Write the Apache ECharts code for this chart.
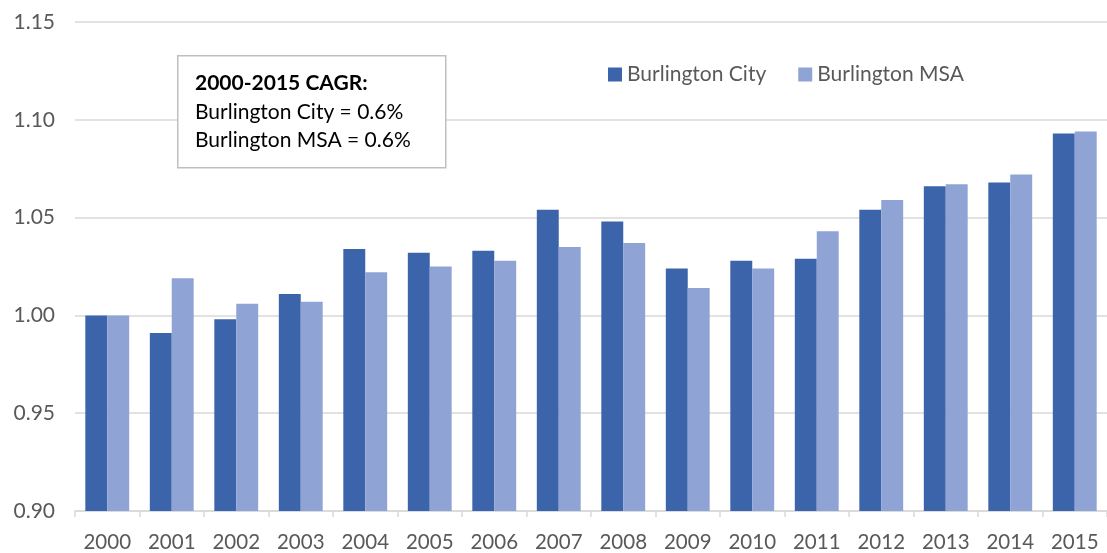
<!DOCTYPE html>
<html>
<head>
<meta charset="utf-8">
<script src="https://cdn.jsdelivr.net/npm/echarts@6/dist/echarts.min.js"></script>
<style>
  html, body { margin: 0; padding: 0; background: #fff; }
  #chart { width: 1107px; height: 553px; }
</style>
</head>
<body>
<div id="chart"></div>
<script>
var years = ['2000', '2001', '2002', '2003', '2004', '2005', '2006', '2007',
  '2008', '2009', '2010', '2011', '2012', '2013', '2014', '2015'];
var cityValues = [1.000, 0.991, 0.998, 1.011, 1.034, 1.032, 1.033, 1.054,
  1.048, 1.024, 1.028, 1.029, 1.054, 1.066, 1.068, 1.093];
var msaValues = [1.000, 1.019, 1.006, 1.007, 1.022, 1.025, 1.028, 1.035,
  1.037, 1.014, 1.024, 1.043, 1.059, 1.067, 1.072, 1.094];
var noteLines = ['2000-2015 CAGR:', 'Burlington City = 0.6%', 'Burlington MSA = 0.6%'];

(function() {
  var font = 'Lato, "Open Sans", sans-serif';
  var gray = '#595959';
  var rule = '#D9D9D9';
  var cityColor = '#3C64AB';
  var msaColor = '#8FA3D4';

  var chart = echarts.init(document.getElementById('chart'), null, { renderer: 'canvas' });

  chart.setOption({
    animation: false,
    textStyle: { fontFamily: font },
    legend: {
      data: ['Burlington City', 'Burlington MSA'],
      left: 603,
      top: 59,
      icon: 'rect',
      itemWidth: 14,
      itemHeight: 14,
      itemGap: 32,
      textStyle: { color: gray, fontSize: 21, fontFamily: font }
    },
    grid: { left: 75, top: 22, width: 1040, height: 490, containLabel: false },
    xAxis: {
      type: 'category',
      data: years,
      axisLine: { lineStyle: { color: rule, width: 1.5 } },
      axisTick: { show: true, length: 6, lineStyle: { color: rule, width: 1.5 } },
      axisLabel: { color: gray, fontSize: 20.5, margin: 21, fontFamily: font }
    },
    yAxis: {
      type: 'value',
      min: 0.9,
      max: 1.15,
      interval: 0.05,
      axisLine: { show: false },
      axisTick: { show: false },
      axisLabel: {
        color: gray, fontSize: 21, margin: 20, fontFamily: font,
        formatter: function(v) { return v.toFixed(2); }
      },
      splitLine: { lineStyle: { color: rule, width: 1.5 } }
    },
    series: [
      {
        name: 'Burlington City',
        type: 'bar',
        data: cityValues,
        barGap: '0%',
        barCategoryGap: '32%',
        itemStyle: { color: cityColor }
      },
      {
        name: 'Burlington MSA',
        type: 'bar',
        data: msaValues,
        barGap: '0%',
        barCategoryGap: '32%',
        itemStyle: { color: msaColor }
      }
    ],
    graphic: [
      {
        type: 'rect',
        left: 177,
        top: 55,
        shape: { width: 268, height: 112 },
        style: { fill: '#fff', stroke: '#BFBFBF', lineWidth: 1.5 },
        z: 100
      },
      {
        type: 'text',
        left: 195,
        top: 69,
        z: 101,
        style: {
          text: '{b|' + noteLines[0] + '}\n' + noteLines[1] + '\n' + noteLines[2],
          fill: '#000',
          fontSize: 21,
          lineHeight: 28.5,
          fontFamily: font,
          rich: {
            b: { fontWeight: 'bold', fontSize: 21, lineHeight: 28.5, fontFamily: font, fill: '#000' }
          }
        }
      }
    ]
  });

  window.addEventListener('resize', function() { chart.resize(); });
})();
</script>
</body>
</html>
